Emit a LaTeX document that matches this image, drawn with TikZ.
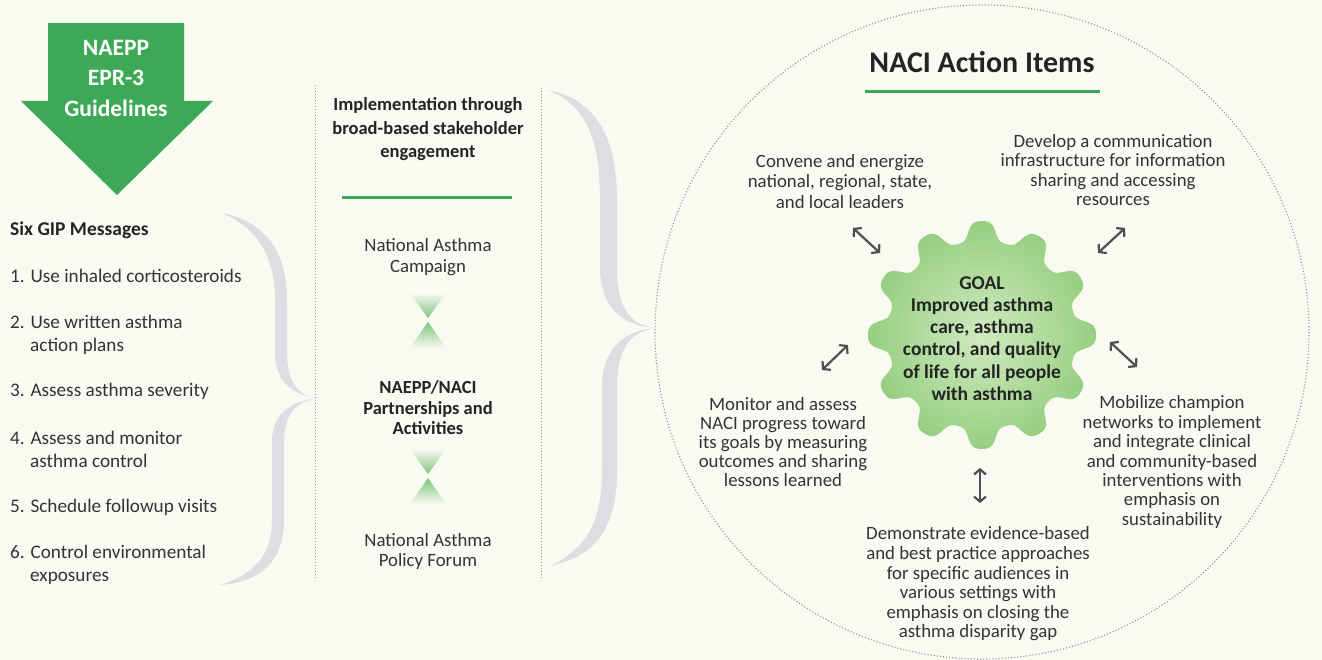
\documentclass[tikz,border=0pt]{standalone}
\usepackage{fontspec}
\setmainfont{Carlito}
\usetikzlibrary{arrows.meta,calc}
\definecolor{bg}{RGB}{249,250,242}
\definecolor{leaf}{RGB}{61,169,87}
\definecolor{ink}{RGB}{36,36,36}
\definecolor{soft}{RGB}{52,52,52}
\definecolor{bracegray}{RGB}{221,222,225}
\definecolor{dotgray}{RGB}{150,150,150}
\definecolor{gearout}{RGB}{150,207,128}
\definecolor{gearin}{RGB}{208,234,192}
\definecolor{glow}{RGB}{125,196,125}
\definecolor{arrowgray}{RGB}{80,80,80}

\begin{document}
\begin{tikzpicture}[x=1pt,y=-1pt,
  body/.style={font=\fontsize{18.8}{20.5}\selectfont, text=soft, inner sep=0pt, align=center},
  listitem/.style={font=\fontsize{19.2}{23}\selectfont, text=soft, inner sep=0pt, align=left, anchor=west},
  heading/.style={font=\bfseries\fontsize{18.5}{23.5}\selectfont, text=ink, inner sep=0pt, align=center},
  greenrule/.style={draw=leaf, line width=3pt},
  divider/.style={draw=dotgray, line width=1pt, dotted},
  twohead/.style={draw=arrowgray, line width=2.2pt,
    {Straight Barb[length=5pt,width=12pt]}-{Straight Barb[length=5pt,width=12pt]}},
  bracefill/.style={fill=bracegray, draw=none},
]
% canvas
\fill[bg] (0,0) rectangle (1322,660);
\useasboundingbox (0,0) rectangle (1322,660);

% ---------- left column: guidelines arrow and GIP messages ----------
\fill[leaf] (48,23) -- (184,23) -- (184,101) -- (213,101) -- (117,195)
  -- (21,101) -- (48,101) -- cycle;
\node[font=\bfseries\fontsize{23.5}{30.5}\selectfont, text=white, inner sep=0pt, align=center]
  (guide) at (116,78) {NAEPP\\EPR-3\\Guidelines};

\node[listitem, font=\bfseries\fontsize{19.5}{23}\selectfont, text=ink] (six) at (10,230) {Six GIP Messages};
\node[listitem] (m1) at (10,276) {1. Use inhaled corticosteroids};
\node[listitem] (m2) at (10,334.5) {2. Use written asthma\\\hspace*{20pt}action plans};
\node[listitem] (m3) at (10,391) {3. Assess asthma severity};
\node[listitem] (m4) at (10,449.5) {4. Assess and monitor\\\hspace*{20pt}asthma control};
\node[listitem] (m5) at (10,507) {5. Schedule followup visits};
\node[listitem] (m6) at (10,565) {6. Control environmental\\\hspace*{20pt}exposures};

% left brace
\path[bracefill] (222,213) .. controls (268,222) and (287,255) .. (287,300)
  -- (287,352) .. controls (287,385) and (300,396) .. (318,398)
  .. controls (296,395) and (275,385) .. (275,352)
  -- (275,300) .. controls (275,262) and (262,230) .. (222,213) -- cycle;
\path[bracefill] (318,398) .. controls (298,401) and (284,412) .. (284,442)
  -- (284,520) .. controls (284,560) and (262,582) .. (220,585)
  .. controls (255,574) and (272,555) .. (272,520)
  -- (272,442) .. controls (272,412) and (292,401) .. (318,398) -- cycle;

% ---------- middle column ----------
\draw[divider] (315,85) -- (315,580);
\draw[divider] (541,88) -- (541,580);

\node[heading] (impl) at (428,129.5) {Implementation through\\broad-based stakeholder\\engagement};
\draw[greenrule] (342,198) -- (512,198);
\node[body, font=\fontsize{18.8}{21}\selectfont] (camp) at (428,257.5) {National Asthma\\Campaign};

\coordinate (hg1) at (428,320);
\shade[top color=bg, bottom color=glow] ($(hg1)+(-18,-27)$) -- ($(hg1)+(18,-27)$) -- ($(hg1)+(0,-2)$) -- cycle;
\shade[top color=glow, bottom color=bg] ($(hg1)+(0,2)$) -- ($(hg1)+(18,28)$) -- ($(hg1)+(-18,28)$) -- cycle;

\node[heading, font=\bfseries\fontsize{18.5}{20.5}\selectfont] (part) at (428,408) {NAEPP/NACI\\Partnerships and\\Activities};

\coordinate (hg2) at (428,476);
\shade[top color=bg, bottom color=glow] ($(hg2)+(-18,-27)$) -- ($(hg2)+(18,-27)$) -- ($(hg2)+(0,-2)$) -- cycle;
\shade[top color=glow, bottom color=bg] ($(hg2)+(0,2)$) -- ($(hg2)+(18,28)$) -- ($(hg2)+(-18,28)$) -- cycle;

\node[body, font=\fontsize{18.8}{20}\selectfont] (forum) at (428,551) {National Asthma\\Policy Forum};

% right brace
\path[bracefill] (548,90) .. controls (598,100) and (617,140) .. (617,200)
  -- (617,268) .. controls (617,308) and (630,325) .. (655,328)
  .. controls (626,326) and (600,310) .. (600,268)
  -- (600,200) .. controls (600,142) and (588,106) .. (548,90) -- cycle;
\path[bracefill] (655,328) .. controls (630,332) and (617,348) .. (617,388)
  -- (617,470) .. controls (617,528) and (596,556) .. (550,566)
  .. controls (588,548) and (602,520) .. (602,470)
  -- (602,388) .. controls (602,346) and (626,331) .. (655,328) -- cycle;

% ---------- right side: action items ----------
\coordinate (ctr) at (982,332);
\draw[draw=dotgray, line width=1.1pt, dotted] (ctr) circle (327);

\node[font=\bfseries\fontsize{30}{34}\selectfont, text=ink, inner sep=0pt] (title) at (982,62) {NACI Action Items};
\draw[greenrule] (865,92) -- (1100,92);

% goal gear: flat-topped teeth from a squashed cosine profile
\shade[inner color=gearin, outer color=gearout]
  plot[domain=0:360, samples=481, variable=\t, smooth]
  ({982+(104+10*tanh(1.6*cos(12*\t))/tanh(1.6))*cos(\t)},
   {335+(104+10*tanh(1.6*cos(12*\t))/tanh(1.6))*sin(\t)}) -- cycle;
\node[heading, font=\bfseries\fontsize{19.5}{22.3}\selectfont] (goal) at (982,338.5)
  {GOAL\\Improved asthma\\care, asthma\\control, and quality\\of life for all people\\with asthma};

\node[body] (conv) at (840,181.5) {Convene and energize\\national, regional, state,\\and local leaders};
\node[body, font=\fontsize{18.8}{19.5}\selectfont] (dev) at (1113,170) {Develop a communication\\infrastructure for information\\sharing and accessing\\resources};
\node[body, font=\fontsize{18.8}{19}\selectfont] (mon) at (783,442) {Monitor and assess\\NACI progress toward\\its goals by measuring\\outcomes and sharing\\lessons learned};
\node[body, font=\fontsize{18.8}{19.4}\selectfont] (mob) at (1172,462) {Mobilize champion\\networks to implement\\and integrate clinical\\and community-based\\interventions with\\emphasis on\\sustainability};
\node[body, font=\fontsize{18.8}{19.6}\selectfont] (demo) at (978,584) {Demonstrate evidence-based\\and best practice approaches\\for specific audiences in\\various settings with\\emphasis on closing the\\asthma disparity gap};

% two-headed arrows between the goal and each action item
\coordinate (a1s) at (853,228); \coordinate (a1e) at (880,253);
\coordinate (a2s) at (1098,253); \coordinate (a2e) at (1125,228);
\coordinate (a3s) at (822,370); \coordinate (a3e) at (848,345);
\coordinate (a4s) at (1110,342); \coordinate (a4e) at (1137,367);
\coordinate (a5s) at (980,468); \coordinate (a5e) at (980,503);
\draw[twohead] (a1s) -- (a1e);
\draw[twohead] (a2s) -- (a2e);
\draw[twohead] (a3s) -- (a3e);
\draw[twohead] (a4s) -- (a4e);
\draw[twohead] (a5s) -- (a5e);
\end{tikzpicture}
\end{document}
